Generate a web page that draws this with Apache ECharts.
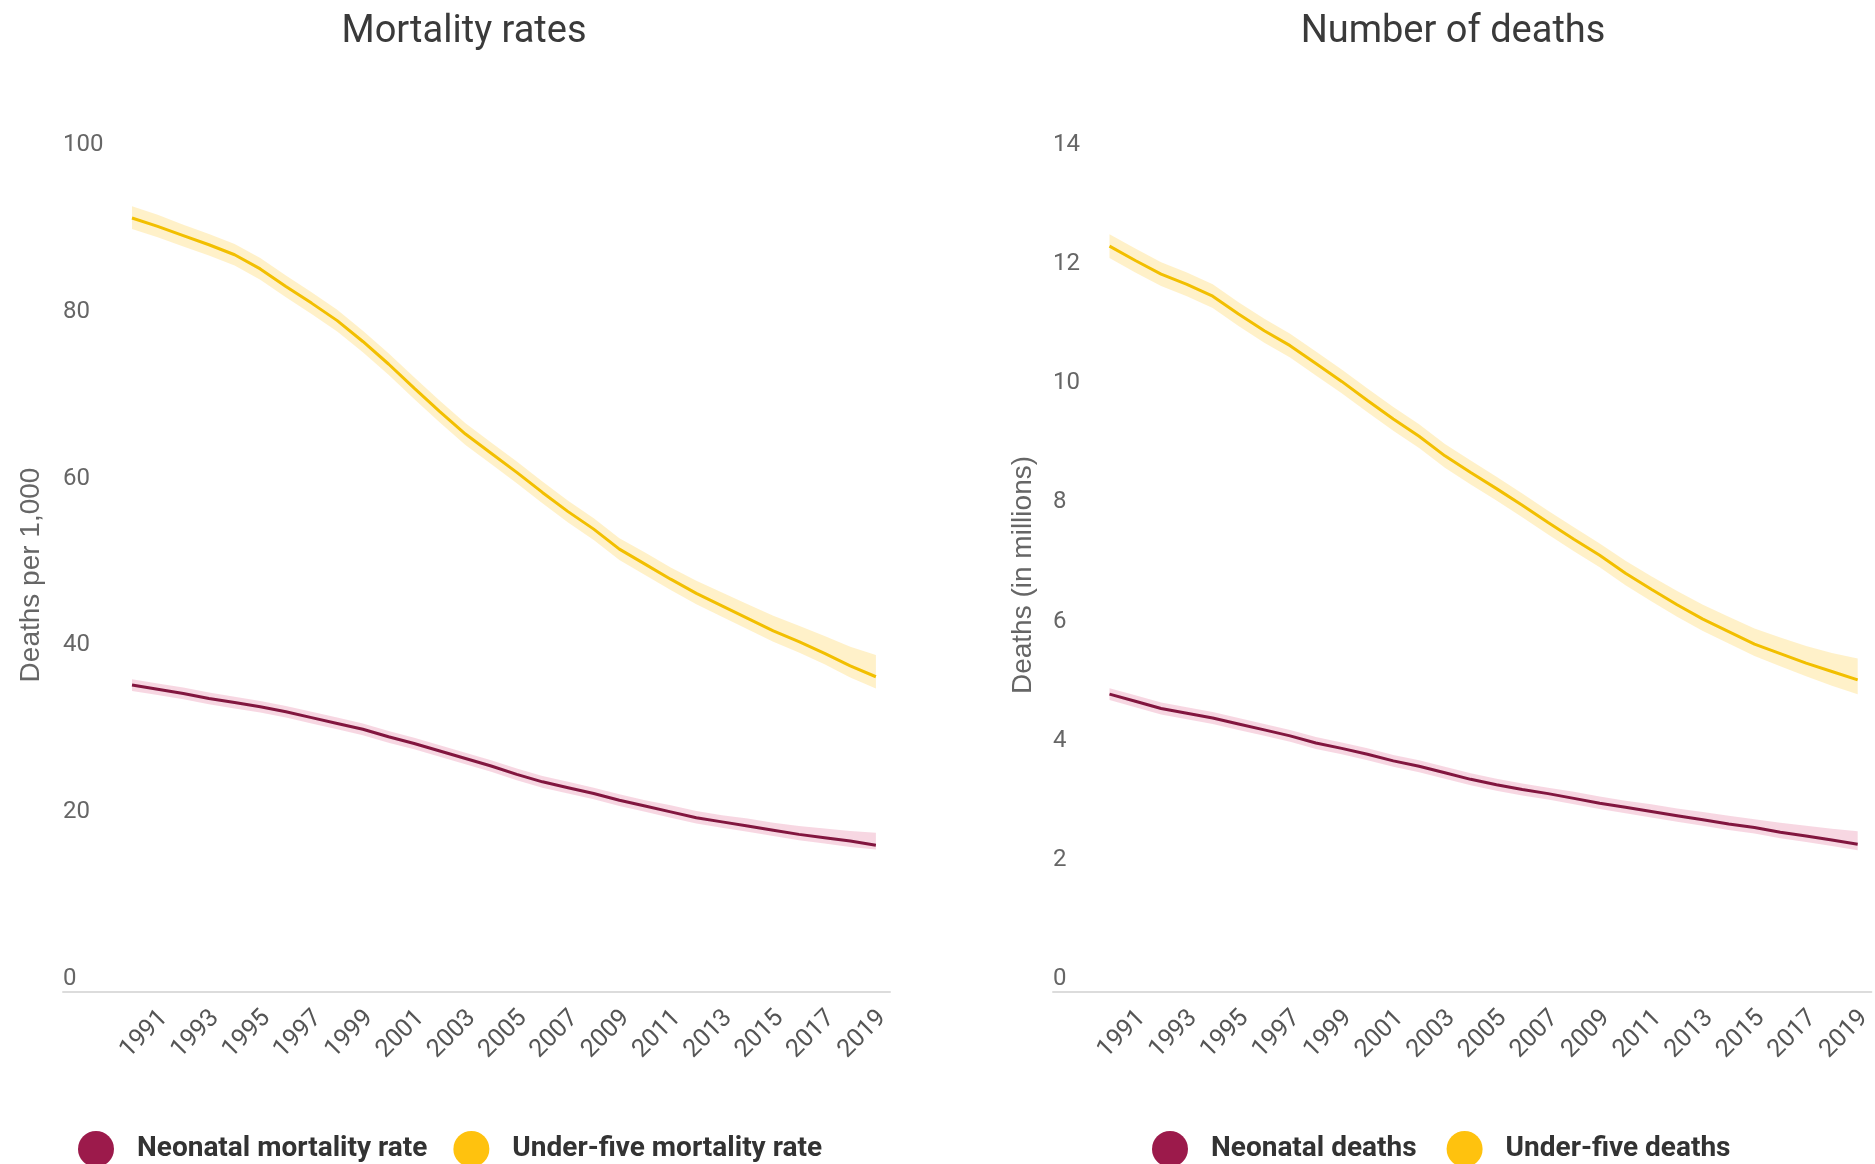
<!DOCTYPE html>
<html>
<head>
<meta charset="utf-8">
<title>Child mortality</title>
<script src="https://cdn.jsdelivr.net/npm/echarts@6/dist/echarts.min.js"></script>
<style>
  html, body { margin: 0; padding: 0; background: #ffffff; }
  #chart { width: 1875px; height: 1164px; }
</style>
</head>
<body>
<div id="chart"></div>
<script>
// Years covered by the estimates
const years = [1990, 1991, 1992, 1993, 1994, 1995, 1996, 1997, 1998, 1999,
               2000, 2001, 2002, 2003, 2004, 2005, 2006, 2007, 2008, 2009,
               2010, 2011, 2012, 2013, 2014, 2015, 2016, 2017, 2018, 2019];
// Years printed under each x axis
const yearLabels = [1991, 1993, 1995, 1997, 1999, 2001, 2003, 2005, 2007, 2009, 2011, 2013, 2015, 2017, 2019];

// Mortality rates (deaths per 1,000 live births)
const under5Rate = [92.8, 91.8, 90.7, 89.6, 88.4, 86.7, 84.6, 82.6, 80.5, 78.0,
                    75.3, 72.4, 69.6, 66.9, 64.6, 62.3, 59.9, 57.6, 55.5, 53.1,
                    51.3, 49.5, 47.8, 46.3, 44.8, 43.3, 42.0, 40.6, 39.1, 37.8];
const under5RateUpper = [94.2, 93.2, 92.0, 90.9, 89.7, 88.0, 85.9, 83.9, 81.8, 79.3,
                         76.6, 73.7, 70.9, 68.2, 65.9, 63.6, 61.2, 58.9, 56.8, 54.4,
                         52.7, 50.9, 49.3, 47.9, 46.5, 45.1, 43.9, 42.7, 41.4, 40.4];
const under5RateLower = [91.5, 90.5, 89.4, 88.3, 87.1, 85.4, 83.3, 81.3, 79.2, 76.7,
                         74.0, 71.1, 68.3, 65.6, 63.3, 61.0, 58.6, 56.3, 54.2, 51.8,
                         50.0, 48.2, 46.5, 45.0, 43.5, 42.0, 40.7, 39.3, 37.7, 36.4];
const neonatalRate = [36.8, 36.3, 35.8, 35.2, 34.7, 34.2, 33.6, 32.9, 32.2, 31.5,
                      30.6, 29.8, 28.9, 28.0, 27.1, 26.1, 25.2, 24.5, 23.8, 23.0,
                      22.3, 21.6, 20.9, 20.4, 19.9, 19.4, 18.9, 18.5, 18.1, 17.6];
const neonatalRateUpper = [37.5, 37.0, 36.5, 35.9, 35.4, 34.9, 34.3, 33.6, 32.9, 32.2,
                           31.3, 30.5, 29.6, 28.7, 27.8, 26.8, 25.9, 25.2, 24.5, 23.7,
                           23.0, 22.4, 21.7, 21.2, 20.8, 20.3, 19.9, 19.6, 19.3, 19.1];
const neonatalRateLower = [36.1, 35.6, 35.1, 34.5, 34.0, 33.5, 32.9, 32.2, 31.5, 30.8,
                           29.9, 29.1, 28.2, 27.3, 26.4, 25.4, 24.5, 23.8, 23.1, 22.3,
                           21.6, 20.9, 20.2, 19.7, 19.2, 18.7, 18.2, 17.8, 17.4, 17.1];

// Number of deaths (millions)
const under5Deaths = [12.52, 12.28, 12.05, 11.88, 11.68, 11.38, 11.10, 10.85, 10.55, 10.25,
                      9.93, 9.62, 9.33, 9.00, 8.72, 8.45, 8.17, 7.88, 7.60, 7.33,
                      7.03, 6.76, 6.50, 6.26, 6.05, 5.84, 5.68, 5.52, 5.38, 5.24];
const under5DeathsUpper = [12.72, 12.48, 12.25, 12.08, 11.88, 11.58, 11.30, 11.05, 10.75, 10.45,
                           10.13, 9.82, 9.53, 9.20, 8.92, 8.65, 8.37, 8.08, 7.80, 7.53,
                           7.24, 6.98, 6.73, 6.50, 6.30, 6.10, 5.95, 5.81, 5.69, 5.60];
const under5DeathsLower = [12.32, 12.08, 11.85, 11.68, 11.48, 11.18, 10.90, 10.65, 10.35, 10.05,
                           9.73, 9.42, 9.13, 8.80, 8.52, 8.25, 7.97, 7.68, 7.40, 7.13,
                           6.83, 6.56, 6.30, 6.06, 5.85, 5.64, 5.47, 5.30, 5.14, 5.00];
const neonatalDeaths = [5.00, 4.88, 4.76, 4.68, 4.60, 4.50, 4.40, 4.30, 4.18, 4.09,
                        3.99, 3.88, 3.79, 3.68, 3.57, 3.48, 3.40, 3.33, 3.25, 3.17,
                        3.10, 3.03, 2.96, 2.89, 2.82, 2.76, 2.68, 2.62, 2.55, 2.48];
const neonatalDeathsUpper = [5.10, 4.98, 4.86, 4.78, 4.70, 4.60, 4.50, 4.40, 4.28, 4.19,
                             4.09, 3.98, 3.89, 3.78, 3.67, 3.58, 3.50, 3.43, 3.36, 3.28,
                             3.21, 3.15, 3.08, 3.02, 2.96, 2.90, 2.84, 2.79, 2.74, 2.70];
const neonatalDeathsLower = [4.90, 4.78, 4.66, 4.58, 4.50, 4.40, 4.30, 4.20, 4.08, 3.99,
                             3.89, 3.78, 3.69, 3.58, 3.47, 3.38, 3.30, 3.23, 3.15, 3.07,
                             3.00, 2.93, 2.86, 2.79, 2.72, 2.66, 2.58, 2.52, 2.45, 2.38];

const MAROON = '#9c1a4b';
const MAROON_LINE = '#82163f';
const YELLOW = '#ffc20e';
const YELLOW_LINE = '#f2bf00';
const MAROON_BAND = 'rgba(226, 110, 150, 0.28)';
const YELLOW_BAND = 'rgba(255, 200, 40, 0.25)';

const pairs = (vals) => years.map((y, i) => [y, vals[i]]);

// Uncertainty band drawn as a polygon through the axis scales
function band(gridIdx, upper, lower, fill) {
  return {
    type: 'custom',
    xAxisIndex: gridIdx,
    yAxisIndex: gridIdx,
    silent: true,
    z: 1,
    data: [[years[0], upper[0]]],
    renderItem: function (params, api) {
      const pts = [];
      for (let i = 0; i < years.length; i++) pts.push(api.coord([years[i], upper[i]]));
      for (let i = years.length - 1; i >= 0; i--) pts.push(api.coord([years[i], lower[i]]));
      return { type: 'polygon', shape: { points: pts }, style: { fill: fill } };
    }
  };
}

function line(gridIdx, name, vals, itemColor, lineColor) {
  return {
    type: 'line',
    name: name,
    xAxisIndex: gridIdx,
    yAxisIndex: gridIdx,
    data: pairs(vals),
    showSymbol: false,
    symbol: 'none',
    z: 3,
    itemStyle: { color: itemColor },
    lineStyle: { color: lineColor, width: 3 }
  };
}

function xAxis(gridIdx, min, max) {
  return {
    type: 'value',
    gridIndex: gridIdx,
    min: min,
    max: max,
    axisLine: { show: true, lineStyle: { color: '#dcdcdc', width: 2 } },
    axisTick: { show: false },
    splitLine: { show: false },
    axisLabel: {
      customValues: yearLabels,
      rotate: 45,
      margin: 16,
      verticalAlign: 'top',
      lineHeight: 18,
      fontFamily: 'Roboto',
      fontSize: 25,
      color: '#555555',
      formatter: (v) => String(v)
    }
  };
}

function yAxis(gridIdx, max, interval, name, nameGap) {
  return {
    type: 'value',
    gridIndex: gridIdx,
    min: 0,
    max: max,
    interval: interval,
    axisLine: { show: false },
    axisTick: { show: false },
    splitLine: { show: false },
    axisLabel: {
      inside: true,
      margin: 0,
      align: 'left',
      verticalAlign: 'bottom',
      lineHeight: 26,
      fontFamily: 'Roboto',
      fontSize: 24,
      color: '#666666'
    },
    name: name,
    nameLocation: 'middle',
    nameRotate: 90,
    nameGap: nameGap,
    nameTextStyle: { fontFamily: 'Liberation Sans', fontSize: 28, color: '#666666' }
  };
}

const legendText = { fontFamily: 'Roboto', fontWeight: 'bold', fontSize: 28, color: '#333333', padding: [0, 0, 0, 18] };

const option = {
  backgroundColor: '#ffffff',
  animation: false,
  title: [
    { text: 'Mortality rates', left: 459, top: 8, textAlign: 'center',
      textStyle: { fontFamily: 'Roboto', fontWeight: 'normal', fontSize: 38, color: '#3a3a3a' } },
    { text: 'Number of deaths', left: 1448, top: 8, textAlign: 'center',
      textStyle: { fontFamily: 'Roboto', fontWeight: 'normal', fontSize: 38, color: '#3a3a3a' } }
  ],
  grid: [
    { left: 63, top: 158, width: 827, height: 834 },
    { left: 1053, top: 158, width: 827, height: 834 }
  ],
  xAxis: [xAxis(0, 1987.31, 2019.55), xAxis(1, 1987.81, 2019.53)],
  yAxis: [yAxis(0, 100, 20, 'Deaths per 1,000', 18), yAxis(1, 14, 2, 'Deaths (in millions)', 16)],
  legend: [
    { data: ['Neonatal mortality rate', 'Under-five mortality rate'], left: 78, top: 1131, padding: 0,
      icon: 'circle', itemWidth: 36, itemHeight: 36, itemGap: 26, selectedMode: false,
      textStyle: legendText },
    { data: ['Neonatal deaths', 'Under-five deaths'], left: 1152, top: 1131, padding: 0,
      icon: 'circle', itemWidth: 36, itemHeight: 36, itemGap: 30, selectedMode: false,
      textStyle: legendText }
  ],
  series: [
    band(0, under5RateUpper, under5RateLower, YELLOW_BAND),
    band(0, neonatalRateUpper, neonatalRateLower, MAROON_BAND),
    line(0, 'Neonatal mortality rate', neonatalRate, MAROON, MAROON_LINE),
    line(0, 'Under-five mortality rate', under5Rate, YELLOW, YELLOW_LINE),
    band(1, under5DeathsUpper, under5DeathsLower, YELLOW_BAND),
    band(1, neonatalDeathsUpper, neonatalDeathsLower, MAROON_BAND),
    line(1, 'Neonatal deaths', neonatalDeaths, MAROON, MAROON_LINE),
    line(1, 'Under-five deaths', under5Deaths, YELLOW, YELLOW_LINE)
  ]
};

const chart = echarts.init(document.getElementById('chart'), null, { renderer: 'canvas' });
chart.setOption(option);
</script>
</body>
</html>
